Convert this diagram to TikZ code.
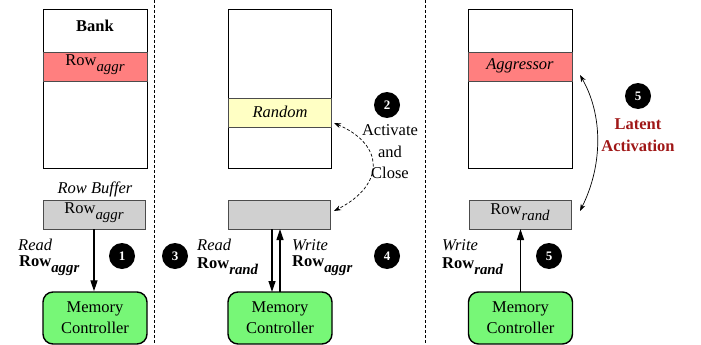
\documentclass[tikz,border=0pt]{standalone}
\usepackage{fontspec}
\setmainfont{Liberation Serif}
\usetikzlibrary{arrows.meta}
\definecolor{rowred}{HTML}{FF7F7F}
\definecolor{rowyellow}{HTML}{FFFFC4}
\definecolor{bufgray}{HTML}{D0D0D0}
\definecolor{mcgreen}{HTML}{77F777}
\definecolor{latred}{HTML}{A01818}
\newcommand{\sbx}[1]{\raisebox{-6pt}{\scalebox{0.9}{\itshape #1}}}
\newcommand{\sbb}[1]{\raisebox{-6pt}{\scalebox{0.9}{\bfseries\itshape #1}}}
\tikzset{
  every node/.style={font=\fontsize{16.5}{20}\selectfont},
  bankbox/.style={draw=black, line width=0.9pt, fill=white},
  rowbox/.style={draw=black!70, line width=0.9pt},
  bufbox/.style={draw=black!70, line width=0.9pt, fill=bufgray},
  mcbox/.style={draw=black, line width=1.4pt, fill=mcgreen, rounded corners=10pt, align=center, inner sep=0pt, font=\fontsize{16.5}{20}\selectfont},
  numc/.style={circle, fill=black, text=white, inner sep=0pt, minimum size=26pt, font=\fontsize{13}{13}\selectfont\bfseries},
  sepline/.style={line width=0.8pt, dash pattern=on 3pt off 2pt},
  arr/.style={line width=1.2pt, -{Triangle[length=11pt,width=7pt]}},
  lbl/.style={inner sep=0pt, anchor=west},
}
\begin{document}
\begin{tikzpicture}[x=1pt,y=-1pt]
\useasboundingbox (0,0) rectangle (701,345);
% separators
\coordinate (s1t) at (154,0); \coordinate (s1b) at (154,345);
\coordinate (s2t) at (425,0); \coordinate (s2b) at (425,345);
\draw[sepline] (s1t) -- (s1b);
\draw[sepline] (s2t) -- (s2b);

% ===== Panel 1 =====
\draw[bankbox] (43,9) rectangle (147,168);
\node (bank1) at (95,26) {\bfseries Bank};
\draw[rowbox, fill=rowred] (43,52) rectangle (147,81);
\node (r1) at (95,65) {Row\sbx{aggr}};
\node (rb) at (95,189) {\itshape Row Buffer};
\node[bufbox, minimum width=102pt, minimum height=29pt, inner sep=0pt] (buf1) at (94,214.5) {};
\node at (buf1) [yshift=2pt] {Row\sbx{aggr}};
\node[mcbox, minimum width=104pt, minimum height=52pt] (mc1) at (95,318) {Memory\\[1pt]Controller};
\draw[arr] (buf1.south) -- (buf1.south |- mc1.north);
\node[lbl] (rd1) at (18,245) {\itshape Read};
\node[lbl] (rr1) at (19,266) {\bfseries Row\sbb{aggr}};
\node[numc] (n1) at (122,256) {1};
\node[numc] (n3) at (175,256) {3};

% ===== Panel 2 =====
\draw[bankbox] (228,9) rectangle (331,168);
\draw[rowbox, fill=rowyellow] (228,98) rectangle (331,127);
\node (rand) at (280,112) {\itshape Random};
\node[bufbox, minimum width=102pt, minimum height=29pt, inner sep=0pt] (buf2) at (279,214.5) {};
\node[mcbox, minimum width=104pt, minimum height=52pt] (mc2) at (280,318) {Memory\\[1pt]Controller};
\coordinate (b2a) at (272,229);
\coordinate (m2a) at (272,292);
\coordinate (b2b) at (280,229);
\coordinate (m2b) at (280,292);
\draw[arr] (b2a) -- (m2a);
\draw[arr] (m2b) -- (b2b);
\node[lbl] (rd2) at (197,245) {\itshape Read};
\node[lbl] (rr2) at (197,266) {\bfseries Row\sbb{rand}};
\node[lbl] (wr2) at (292,245) {\itshape Write};
\node[lbl] (wa2) at (292,266) {\bfseries Row\sbb{aggr}};
\node[numc] (n2) at (387,105) {2};
\node[align=center] (act) at (390,152) {Activate\\[1.5pt]and\\[1.5pt]Close};
\node[numc] (n4) at (387,256) {4};
\coordinate (c2a) at (334,123);
\coordinate (c2b) at (334,211);
\draw[line width=0.7pt, dash pattern=on 3pt off 2pt, {Stealth[length=7pt,width=5pt]}-{Stealth[length=7pt,width=5pt]}] (c2a) .. controls (385,145) and (385,185) .. (c2b);

% ===== Panel 3 =====
\draw[bankbox] (468,9) rectangle (572,168);
\draw[rowbox, fill=rowred] (468,52) rectangle (572,81);
\node (aggr) at (520,66) {\itshape Aggressor};
\node[bufbox, minimum width=102pt, minimum height=29pt, inner sep=0pt] (buf3) at (520,214.5) {};
\node at (buf3) [yshift=2pt] {Row\sbx{rand}};
\node[mcbox, minimum width=104pt, minimum height=52pt] (mc3) at (520.5,318) {Memory\\[1pt]Controller};
\coordinate (b3) at (520.5,229);
\coordinate (m3) at (520.5,292);
\draw[arr] (m3) -- (b3);
\node[lbl] (wr3) at (442,245) {\itshape Write};
\node[lbl] (rr3) at (442,266) {\bfseries Row\sbb{rand}};
\node[numc] (n5b) at (549,256) {5};
\node[numc] (n5a) at (638,96) {5};
\node[align=center, text=latred, font=\fontsize{16.5}{20}\selectfont\bfseries] (lat) at (638,135) {Latent\\[2pt]Activation};
\coordinate (c3a) at (580,75);
\coordinate (c3b) at (580,211);
\draw[line width=0.7pt, {Stealth[length=7pt,width=5pt]}-{Stealth[length=7pt,width=5pt]}] (c3a) .. controls (603,115) and (603,165) .. (c3b);
\end{tikzpicture}
\end{document}
